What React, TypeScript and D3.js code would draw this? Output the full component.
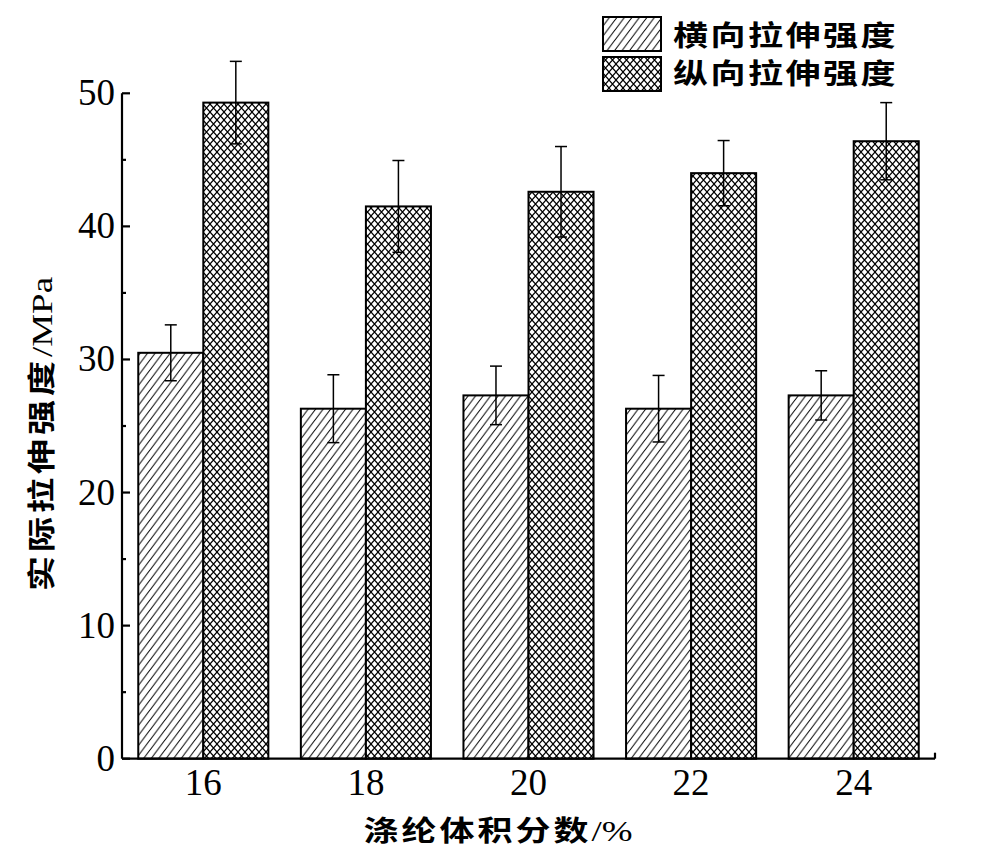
import React from "react";
import * as d3 from "d3";

const categories = ["16", "18", "20", "22", "24"];
const seriesNames = ["横向拉伸强度", "纵向拉伸强度"];
const transverse = [30.5, 26.3, 27.3, 26.3, 27.3];
const transverseErr = [2.1, 2.55, 2.2, 2.5, 1.85];
const longitudinal = [49.3, 41.5, 42.6, 44.0, 46.4];
const longitudinalErr = [3.1, 3.45, 3.4, 2.45, 2.9];
const yTicks = [0, 10, 20, 30, 40, 50];
const yMinorTicks = [5, 15, 25, 35, 45];

const W = 1000;
const H = 856;
const left = 122;
const right = 935;
const top = 93.3;
const bottom = 758.7;

const serif = "'Liberation Serif', 'DejaVu Serif', serif";
const cjk = "'Noto Sans CJK SC', 'Noto Sans', sans-serif";

export default function App() {
  const x = d3.scaleBand<string>().domain(categories).range([left, right]).paddingInner(0.2).paddingOuter(0.1);
  const x1 = d3.scaleBand<number>().domain([0, 1]).range([0, x.bandwidth()]);
  const y = d3.scaleLinear().domain([0, 50]).range([bottom, top]);

  const series = [
    { vals: transverse, errs: transverseErr, fill: "url(#hatch)" },
    { vals: longitudinal, errs: longitudinalErr, fill: "url(#cross)" },
  ];

  const hw = 7.5, hh = 10;
  const cw = 7, ch = 8;

  return (
    <svg width={W} height={H} style={{ position: "absolute", left: 0, top: 0, background: "#fff" }}>
      <defs>
        <pattern id="hatch" patternUnits="userSpaceOnUse" width={hw} height={hh}>
          <rect width={hw} height={hh} fill="#fff" />
          <path
            d={`M0,${hh} L${hw},0 M${-hw},${hh} L0,0 M${hw},${hh} L${2 * hw},0 M0,${2 * hh} L${hw},${hh} M0,0 L${hw},${-hh}`}
            stroke="#000"
            strokeWidth={1}
          />
        </pattern>
        <pattern id="cross" patternUnits="userSpaceOnUse" width={cw} height={ch}>
          <rect width={cw} height={ch} fill="#fff" />
          <path d={`M0,${ch} L${cw},0 M0,0 L${cw},${ch}`} stroke="#000" strokeWidth={1.2} />
        </pattern>
      </defs>

      {/* bars */}
      {categories.map((c, i) => (
        <g key={c}>
          {series.map((s, k) => {
            const bx = (x(c) as number) + (x1(k) as number);
            const bw = x1.bandwidth();
            return (
              <rect
                key={k}
                x={bx}
                y={y(s.vals[i])}
                width={bw}
                height={y(0) - y(s.vals[i])}
                fill={s.fill}
                stroke="#000"
                strokeWidth={2}
              />
            );
          })}
        </g>
      ))}

      {/* error bars */}
      {categories.map((c, i) => (
        <g key={"e" + c}>
          {series.map((s, k) => {
            const cx = (x(c) as number) + (x1(k) as number) + x1.bandwidth() / 2;
            const yt = y(s.vals[i] + s.errs[i]);
            const yb = y(s.vals[i] - s.errs[i]);
            return (
              <g key={k} stroke="#000" strokeWidth={1.5}>
                <line x1={cx} x2={cx} y1={yt} y2={yb} />
                <line x1={cx - 6} x2={cx + 6} y1={yt} y2={yt} />
                <line x1={cx - 6} x2={cx + 6} y1={yb} y2={yb} />
              </g>
            );
          })}
        </g>
      ))}

      {/* axes */}
      <g stroke="#000" strokeWidth={2.2} fill="none">
        <line x1={left} x2={left} y1={top} y2={bottom} />
        <line x1={left} x2={right} y1={bottom} y2={bottom} />
        <line x1={right} x2={right} y1={bottom} y2={bottom - 6} />
        {yTicks.map((t) => (
          <line key={t} x1={left} x2={left + 8} y1={y(t)} y2={y(t)} />
        ))}
        {yMinorTicks.map((t) => (
          <line key={t} x1={left} x2={left + 4} y1={y(t)} y2={y(t)} />
        ))}
      </g>

      {yTicks.map((t) => (
        <text key={t} x={115} y={y(t) + 12} textAnchor="end" fontFamily={serif} fontSize={37} fill="#000">
          {t}
        </text>
      ))}
      {categories.map((c) => (
        <text
          key={c}
          x={(x(c) as number) + x.bandwidth() / 2}
          y={795}
          textAnchor="middle"
          fontFamily={serif}
          fontSize={37}
          fill="#000"
        >
          {c}
        </text>
      ))}

      {/* axis titles */}
      <text transform={`translate(498,841) scale(1,0.8)`} textAnchor="middle" fontSize={35} fill="#000">
        <tspan fontFamily={cjk} fontWeight={700} letterSpacing={3}>涤纶体积分数</tspan>
        <tspan fontFamily={serif} fontSize={37}>/%</tspan>
      </text>
      <text transform={`translate(52,434) rotate(-90) scale(1,0.8)`} textAnchor="middle" fontSize={35} fill="#000">
        <tspan fontFamily={cjk} fontWeight={700} letterSpacing={4}>实际拉伸强度</tspan>
        <tspan fontFamily={serif} fontSize={37}>/MPa</tspan>
      </text>

      {/* legend */}
      {seriesNames.map((n, k) => (
        <g key={n}>
          <rect x={603} y={17 + k * 40} width={58} height={34} fill={series[k].fill} stroke="#000" strokeWidth={2} />
          <text
            transform={`translate(673,${46 + k * 38}) scale(1,0.8)`}
            fontFamily={cjk}
            fontWeight={700}
            fontSize={35}
            letterSpacing={2.5}
            fill="#000"
          >
            {n}
          </text>
        </g>
      ))}
    </svg>
  );
}
